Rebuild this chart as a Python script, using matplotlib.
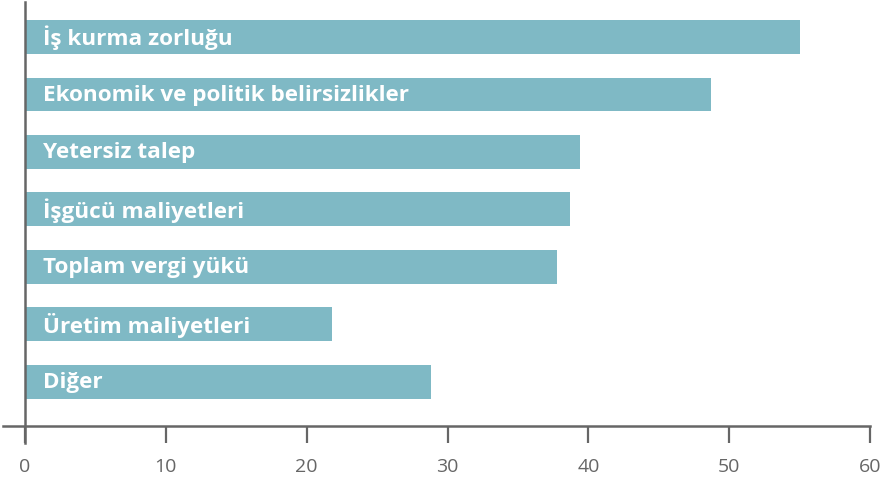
import matplotlib.pyplot as plt

# Data
categories = ["İş kurma zorluğu", "Ekonomik ve politik belirsizlikler", "Yetersiz talep",
              "İşgücü maliyetleri", "Toplam vergi yükü", "Üretim maliyetleri", "Diğer"]
values = [55.0, 48.7, 39.4, 38.7, 37.8, 21.8, 28.8]
xticks = [0, 10, 20, 30, 40, 50, 60]

bar_color = "#7fb9c5"
axis_color = "#666666"

plt.rcParams['font.family'] = ['Open Sans', 'DejaVu Sans']

fig = plt.figure(figsize=(8.82, 4.85), dpi=100)
W, H = 882, 485
ax = fig.add_axes([25 / W, 1 - 427 / H, 845 / W, 424 / H])

ypos = list(range(len(categories)))
ax.barh(ypos, values, height=0.59, color=bar_color, zorder=2)
for y, name in zip(ypos, categories):
    ax.text(1.3, y, name, color="white", fontsize=16.2, fontweight="bold",
            va="center", ha="left", zorder=3)

ax.set_xlim(0, 60)
ax.set_ylim(6.77, -0.61)
ax.set_yticks([])
ax.set_xticks(xticks)
ax.set_xticklabels([str(t) for t in xticks])
ax.tick_params(axis='x', length=12, width=1.6, color=axis_color, labelcolor=axis_color,
               labelsize=14, pad=10)

for s in ["top", "right", "bottom", "left"]:
    ax.spines[s].set_visible(False)

# axis lines, extended beyond the plotting area like the original
ax.axhline(ax.get_ylim()[0], xmin=-22 / 845, xmax=1, color=axis_color, lw=1.8,
           clip_on=False, zorder=4)
ax.axvline(0, ymin=-17 / 424, ymax=1, color=axis_color, lw=1.8, clip_on=False, zorder=4)

fig.savefig("out.png", dpi=100)
